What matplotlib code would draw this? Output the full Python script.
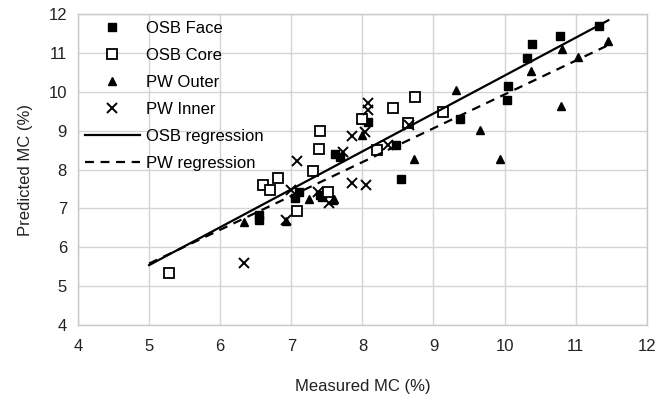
import matplotlib
matplotlib.use("Agg")
import matplotlib.pyplot as plt
import numpy as np

plt.rcParams["font.family"] = ["Liberation Sans", "DejaVu Sans"]

# measured vs predicted MC (%)
osb_face_x = [6.54, 6.55, 7.05, 7.11, 7.40, 7.43, 7.61, 7.68, 8.08, 8.47, 8.55, 9.37, 10.03, 10.05, 10.31, 10.38, 10.78, 11.33]
osb_face_y = [6.83, 6.70, 7.26, 7.43, 7.34, 7.30, 8.41, 8.33, 9.21, 8.64, 7.75, 9.31, 9.78, 10.14, 10.88, 11.24, 11.44, 11.69]

osb_core_x = [5.28, 6.60, 6.70, 6.82, 7.08, 7.31, 7.39, 7.40, 7.51, 8.00, 8.20, 8.43, 8.64, 8.74, 9.14]
osb_core_y = [5.34, 7.60, 7.47, 7.79, 6.93, 7.96, 8.54, 9.00, 7.43, 9.29, 8.50, 9.57, 9.20, 9.87, 9.47]

pw_outer_x = [6.33, 6.93, 7.25, 7.58, 7.60, 8.00, 8.72, 9.31, 9.65, 9.94, 10.37, 10.79, 10.81, 11.03, 11.46]
pw_outer_y = [6.64, 6.68, 7.23, 7.21, 7.25, 8.88, 8.26, 10.04, 9.01, 8.27, 10.53, 9.63, 11.11, 10.90, 11.31]

pw_inner_x = [6.33, 6.93, 7.00, 7.08, 7.38, 7.53, 7.73, 7.85, 7.86, 8.04, 8.05, 8.08, 8.08, 8.36, 8.66]
pw_inner_y = [5.60, 6.71, 7.48, 8.22, 7.41, 7.15, 8.46, 8.86, 7.66, 8.97, 7.60, 9.70, 9.53, 8.63, 9.15]

# regression lines (slope, intercept, x range)
osb_slope, osb_intercept = 0.975, 0.665
osb_range = [5.0, 11.46]
pw_slope, pw_intercept = 0.87, 1.23
pw_range = [5.0, 11.46]

fig = plt.figure(figsize=(6.64, 4.0), dpi=100)
ax = fig.add_axes([0.1175, 0.1875, 0.8565, 0.7775])

ax.plot(osb_face_x, osb_face_y, "s", color="black", markersize=6, linestyle="none", label="OSB Face", zorder=3)
ax.plot(osb_core_x, osb_core_y, "s", markerfacecolor="white", markeredgecolor="black", markeredgewidth=1.3,
        markersize=7.5, linestyle="none", label="OSB Core", zorder=3)
ax.plot(pw_outer_x, pw_outer_y, "^", color="black", markersize=6, linestyle="none", label="PW Outer", zorder=3)
ax.plot(pw_inner_x, pw_inner_y, "x", color="black", markersize=7, markeredgewidth=1.4, linestyle="none",
        label="PW Inner", zorder=3)

xs = np.array(osb_range)
ax.plot(xs, osb_slope * xs + osb_intercept, "-", color="black", linewidth=1.6, label="OSB regression", zorder=4)
xs = np.array(pw_range)
ax.plot(xs, pw_slope * xs + pw_intercept, "--", color="black", linewidth=1.6, dashes=(4, 3),
        label="PW regression", zorder=4)

ax.set_xlim(4, 12)
ax.set_ylim(4, 12)
ax.set_xticks(range(4, 13))
ax.set_yticks(range(4, 13))
ax.grid(True, color="#d4d4d4", linewidth=1.0)
ax.set_axisbelow(True)
for side in ax.spines.values():
    side.set_color("#c8c8c8")
    side.set_linewidth(1.0)
ax.tick_params(axis="x", length=0, labelsize=12, colors="#222222", pad=10)
ax.tick_params(axis="y", length=0, labelsize=12, colors="#222222", pad=8)
ax.set_xlabel("Measured MC (%)", fontsize=12, color="#222222", labelpad=18)
ax.set_ylabel("Predicted MC (%)", fontsize=12, color="#222222", labelpad=11)

ax.legend(loc="upper left", frameon=False, fontsize=12, labelspacing=0.72, handlelength=3.3,
          handletextpad=0.35, borderaxespad=0.1, borderpad=0.3, bbox_to_anchor=(0.0, 1.0))

fig.savefig("out.png", dpi=100)
